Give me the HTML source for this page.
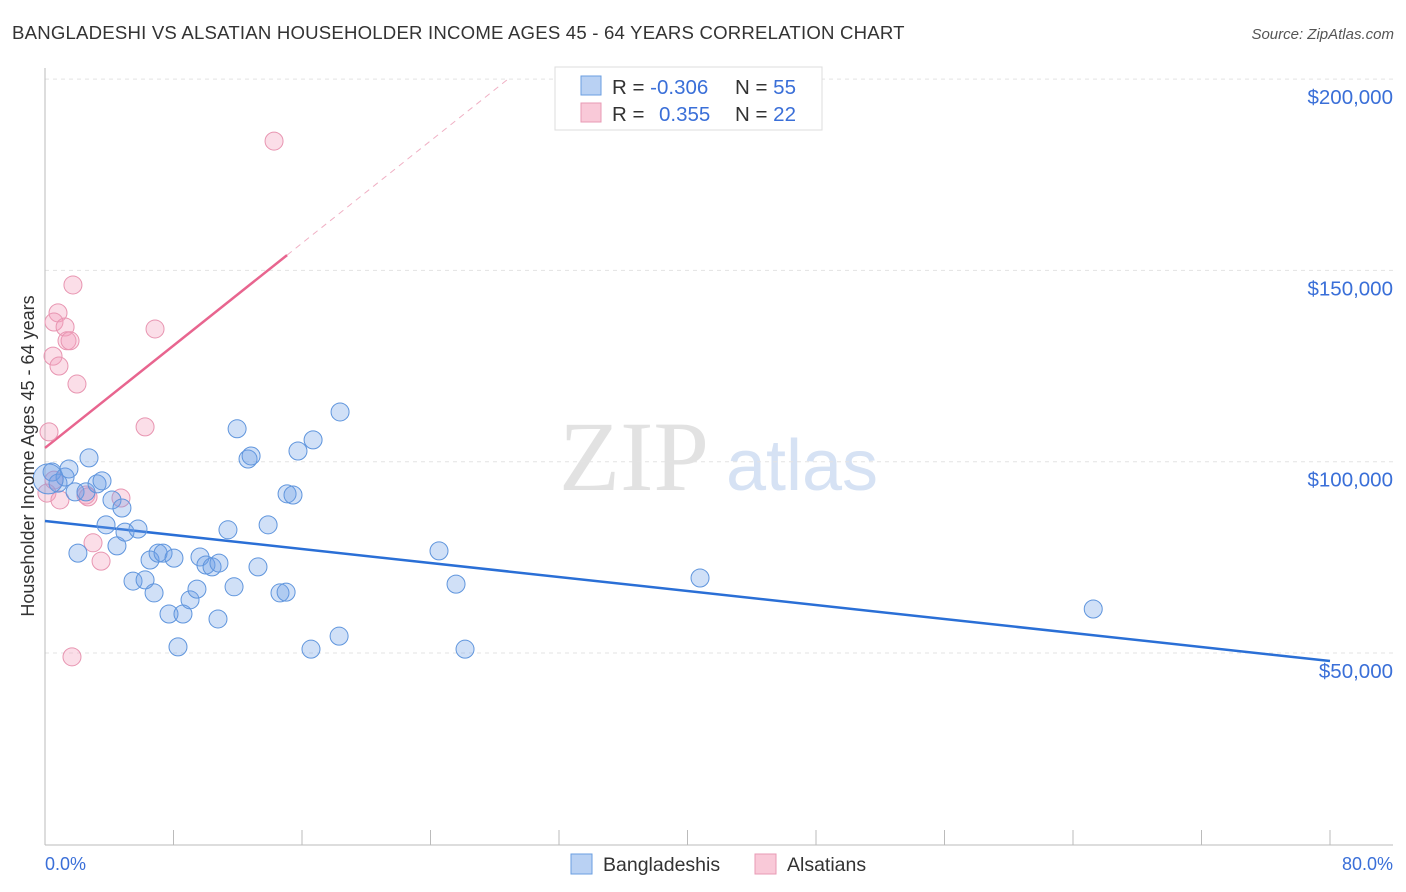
<!DOCTYPE html>
<html><head><meta charset="utf-8"><style>
body{margin:0;background:#fff;font-family:"Liberation Sans",sans-serif}
svg{display:block}
</style></head><body>
<svg id="c" width="1406" height="892">
<text x="12" y="39" font-size="18.6" letter-spacing="0.2" fill="#333">BANGLADESHI VS ALSATIAN HOUSEHOLDER INCOME AGES 45 - 64 YEARS CORRELATION CHART</text>
<text x="1394" y="39" font-size="15" fill="#555" font-style="italic" text-anchor="end">Source: ZipAtlas.com</text>
<text x="634" y="490" font-size="100" fill="#e2e2e2" text-anchor="middle" font-family="Liberation Serif,serif">ZIP</text>
<text x="802" y="490" font-size="72" fill="#d6e2f4" text-anchor="middle">atlas</text>
<g id="grid"></g><g id="axes"></g><g id="trend"></g><g id="pts"></g>
<text transform="translate(34,456) rotate(-90)" font-size="18" fill="#333" text-anchor="middle">Householder Income Ages 45 - 64 years</text>
<text x="45" y="870" font-size="18" fill="#3a6fd8">0.0%</text>
<text x="1393" y="870" font-size="18" fill="#3a6fd8" text-anchor="end">80.0%</text>
<g>
<rect x="555" y="67" width="267" height="63" fill="#fff" stroke="#ddd"/>
<rect x="581" y="76" width="20" height="19" fill="#b9d1f3" stroke="#6a9ee0"/>
<rect x="581" y="103" width="20" height="19" fill="#f9c9d8" stroke="#e89ab4"/>
<text x="612" y="94" font-size="20.5" fill="#333">R = <tspan fill="#3a6fd8">-0.306</tspan><tspan x="735">N = </tspan><tspan fill="#3a6fd8">55</tspan></text>
<text x="612" y="121" font-size="20.5" fill="#333">R = <tspan x="659" fill="#3a6fd8">0.355</tspan><tspan x="735">N = </tspan><tspan fill="#3a6fd8">22</tspan></text>
</g>
<g>
<rect x="571" y="854" width="21" height="20" fill="#b9d1f3" stroke="#6a9ee0"/>
<text x="603" y="871" font-size="19.5" fill="#333">Bangladeshis</text>
<rect x="755" y="854" width="21" height="20" fill="#f9c9d8" stroke="#e89ab4"/>
<text x="787" y="871" font-size="19.5" fill="#333">Alsatians</text>
</g>
</svg>
<script>
const blueX=[0.44,0.81,1.25,1.49,2.74,1.87,2.55,3.24,3.55,4.17,4.79,3.80,4.48,4.98,5.79,2.05,5.48,6.23,6.54,7.04,7.35,8.03,6.79,7.72,8.59,9.03,9.46,8.28,9.65,10.02,10.40,10.83,10.77,11.39,11.77,11.96,12.64,12.83,13.26,13.89,14.63,15.01,15.07,15.44,15.75,16.69,16.56,18.31,18.37,24.53,25.59,26.15,40.78,65.26,0.2];
const blueY=[97300,94400,96000,98100,101000,92100,92100,94200,95000,90000,87900,83500,78000,81600,82400,76100,68800,69100,74300,76100,76100,74800,65700,60200,60200,63900,66700,51600,75100,73000,72500,73500,58900,82200,67300,108600,100700,101500,72500,83500,65700,65900,91600,91300,102800,105700,51000,54400,113000,76700,68000,51000,69600,61500,95500];
const pinkX=[14.26,1.74,0.81,0.56,1.25,1.37,1.56,6.85,0.50,0.87,1.99,6.23,0.25,0.12,0.56,0.93,2.55,2.68,4.73,2.99,3.49,1.68];
const pinkY=[183800,146200,138900,136500,135200,131600,131600,134700,127600,125000,120300,109100,107800,91800,95200,90000,91300,90800,90500,78800,74000,49000];
const blueTrend=[84500,47900];
const pinkTrend=[103600,154000,15.07];
const yTicks=[50000,100000,150000,200000];
const yTickLabels=["$50,000","$100,000","$150,000","$200,000"];
const xTicks=[0,8,16,24,32,40,48,56,64,72,80];
const NS="http://www.w3.org/2000/svg";
const X=v=>45+v*16.0625;
const Y=v=>653-(v-50000)*191.3/50000;
function mk(t,p,a){const e=document.createElementNS(NS,t);for(const k in a)e.setAttribute(k,a[k]);p.appendChild(e);return e;}
const grid=document.getElementById('grid'),axes=document.getElementById('axes'),tr=document.getElementById('trend'),pts=document.getElementById('pts'),svg=document.getElementById('c');
yTicks.forEach((v,i)=>{
 const l=mk('line',grid,{x1:45,x2:1393,y1:Y(v),y2:Y(v),stroke:'#e3e3e3','stroke-dasharray':'4,4'});
 
 
 const t=mk('text',svg,{x:1393,y:Y(v)+25,'font-size':20.5,fill:'#3a6fd8','text-anchor':'end'});
 t.textContent=yTickLabels[i];
 
 
});
const ax=mk('line',axes,{x1:45,x2:45,y1:68,y2:845,stroke:'#bbb'});


const bx=mk('line',axes,{x1:45,x2:1393,y1:845,y2:845,stroke:'#bbb'});


xTicks.forEach(v=>{const t=mk('line',axes,{x1:X(v),x2:X(v),y1:830,y2:845,stroke:'#bbb'});
 
 });
const bl=mk('line',tr,{x1:X(0),y1:Y(blueTrend[0]),x2:X(80),y2:Y(blueTrend[1]),stroke:'#2a6fd6','stroke-width':2.5});


const slope=(pinkTrend[1]-pinkTrend[0])/pinkTrend[2];
const pl=mk('line',tr,{x1:X(0),y1:Y(pinkTrend[0]),x2:X(pinkTrend[2]),y2:Y(pinkTrend[1]),stroke:'#e8658f','stroke-width':2.5});


const xe=(200300-pinkTrend[0])/slope;
const pd=mk('line',tr,{x1:X(pinkTrend[2]),y1:Y(pinkTrend[1]),x2:X(xe),y2:Y(pinkTrend[0]+slope*xe),stroke:'#f0b0c4','stroke-width':1,'stroke-dasharray':'6,5'});


pinkX.forEach((x,i)=>{const c=mk('circle',pts,{cx:X(x),cy:Y(pinkY[i]),r:9,fill:'rgba(244,160,190,0.35)',stroke:'#e895b1','stroke-width':1});
 
 });
blueX.forEach((x,i)=>{const c=mk('circle',pts,{cx:X(x),cy:Y(blueY[i]),r:i==blueX.length-1?15:9,fill:'rgba(110,160,230,0.32)',stroke:'#5f95dd','stroke-width':1});
 
 });
</script>
</body></html>
